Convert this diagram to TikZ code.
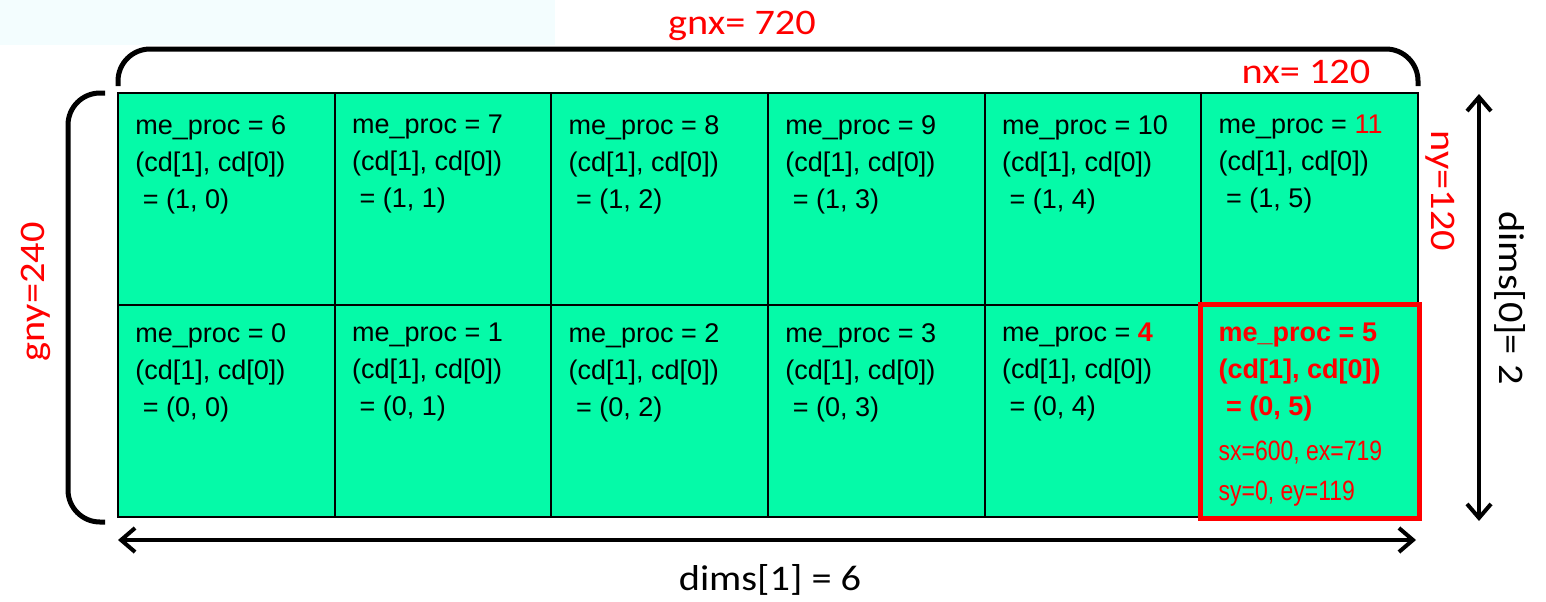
\documentclass[tikz,border=0pt]{standalone}
\usepackage{fontspec}
\usetikzlibrary{arrows.meta}

\newfontfamily\cellfont{Liberation Sans}
\newfontfamily\rangefont[FakeStretch=0.82]{Liberation Sans}
\newfontfamily\labelfont[FakeStretch=1.12]{Carlito}

\definecolor{cellgreen}{RGB}{5,250,168}
\definecolor{markred}{RGB}{255,0,0}
\definecolor{tabblue}{RGB}{243,253,254}

\begin{document}
\begin{tikzpicture}[x=0.5pt, y=-0.5pt,
  cell/.style={draw, fill=cellgreen, line width=1pt, minimum width=108.33pt, minimum height=106pt, inner sep=0pt},
  proc/.style={anchor=north west, inner sep=0pt, align=left, font=\cellfont\fontsize{13.5}{18.5}\selectfont},
  bounds/.style={anchor=north west, inner sep=0pt, align=left, text=markred, font=\rangefont\fontsize{14}{20}\selectfont},
  sizelabel/.style={inner sep=0pt, text=markred, font=\labelfont\fontsize{18}{22}\selectfont},
  dimlabel/.style={inner sep=0pt, font=\labelfont\fontsize{18}{22}\selectfont},
  brace/.style={line width=2.5pt, rounded corners=16pt},
  span/.style={line width=2pt, {Straight Barb[length=7pt,width=12pt]}-{Straight Barb[length=7pt,width=12pt]}}]

\useasboundingbox (0,0) rectangle (1546,601);

% Define dimensions
\def\rowone{115}
\def\rowtwo{323}

\fill[tabblue] (0,0) rectangle (555,45);

% Draw process grid, upper row
\node[cell] (c6) at (226.3,199) {};
\node[cell] (c7) at (443.0,199) {};
\node[cell] (c8) at (659.7,199) {};
\node[cell] (c9) at (876.3,199) {};
\node[cell] (c10) at (1093.0,199) {};
\node[cell] (c11) at (1309.7,199) {};

% lower row
\node[cell] (c0) at (226.3,411) {};
\node[cell] (c1) at (443.0,411) {};
\node[cell] (c2) at (659.7,411) {};
\node[cell] (c3) at (876.3,411) {};
\node[cell] (c4) at (1093.0,411) {};
\node[cell] (c5) at (1309.7,411) {};

% Label each process with its coordinates
\node[proc] (p6) at (135,\rowone) {me\_proc = 6\\(cd[1], cd[0])\\\ = (1, 0)};
\node[proc] (p7) at (351.7,\rowone) {me\_proc = 7\\(cd[1], cd[0])\\\ = (1, 1)};
\node[proc] (p8) at (568.3,\rowone) {me\_proc = 8\\(cd[1], cd[0])\\\ = (1, 2)};
\node[proc] (p9) at (785,\rowone) {me\_proc = 9\\(cd[1], cd[0])\\\ = (1, 3)};
\node[proc] (p10) at (1001.7,\rowone) {me\_proc = 10\\(cd[1], cd[0])\\\ = (1, 4)};
\node[proc] (p11) at (1218.3,\rowone) {me\_proc = \textcolor{markred}{11}\\(cd[1], cd[0])\\\ = (1, 5)};

\node[proc] (p0) at (135,\rowtwo) {me\_proc = 0\\(cd[1], cd[0])\\\ = (0, 0)};
\node[proc] (p1) at (351.7,\rowtwo) {me\_proc = 1\\(cd[1], cd[0])\\\ = (0, 1)};
\node[proc] (p2) at (568.3,\rowtwo) {me\_proc = 2\\(cd[1], cd[0])\\\ = (0, 2)};
\node[proc] (p3) at (785,\rowtwo) {me\_proc = 3\\(cd[1], cd[0])\\\ = (0, 3)};
\node[proc] (p4) at (1001.7,\rowtwo) {me\_proc = \textcolor{markred}{\bfseries 4}\\(cd[1], cd[0])\\\ = (0, 4)};
\node[proc, text=markred, font=\cellfont\bfseries\fontsize{13.5}{18.5}\selectfont] (p5) at (1218.3,\rowtwo) {me\_proc = 5\\(cd[1], cd[0])\\\ = (0, 5)};
\node[bounds] (r5) at (1218.3,441) {sx=600, ex=719\\sy=0, ey=119};

% Highlight the local block
\draw[markred, line width=2.5pt] (c5.north west) rectangle (c5.south east);

% Braces around the global and local sizes
\draw[brace] (118,86) |- (1418,49) -- (1418,86);
\draw[brace] (105,93) -- (68,93) -- (68,522) -- (105,522);

% Process grid extents
\coordinate (ytop) at (1479,94);
\coordinate (ybot) at (1479,521);
\coordinate (xleft) at (118,540);
\coordinate (xright) at (1416,540);
\draw[span] (ytop) -- (ybot);
\draw[span] (xleft) -- (xright);

% Sizes and dims
\node[sizelabel, anchor=base] (gnx) at (742,34) {gnx= 720};
\node[sizelabel, anchor=base] (nx) at (1306,83) {nx= 120};
\node[sizelabel, rotate=-90] (ny) at (1440,191) {ny=120};
\node[sizelabel, rotate=90] (gny) at (36,292) {gny=240};
\node[dimlabel, rotate=-90] (dimsy) at (1510,298) {dims[0]= 2};
\node[dimlabel] (dimsx) at (770,580) {dims[1] = 6};
\end{tikzpicture}
\end{document}
